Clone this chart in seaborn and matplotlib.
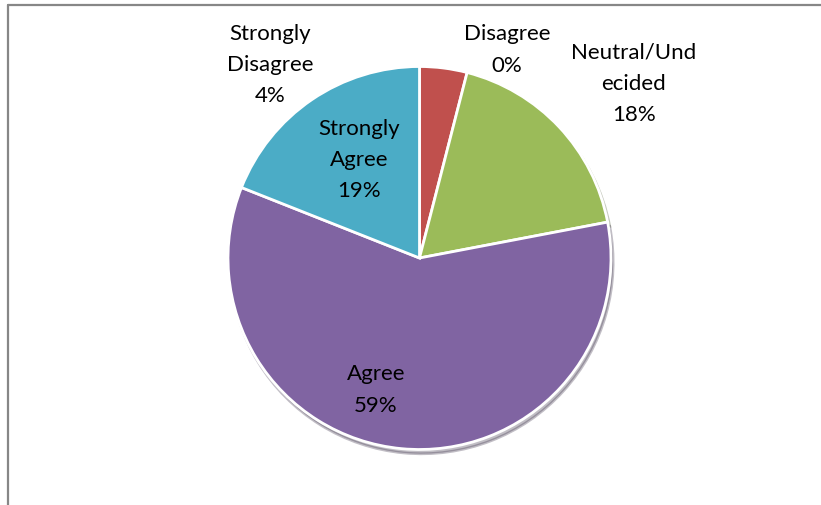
import matplotlib
matplotlib.use("Agg")
import matplotlib.pyplot as plt
import seaborn as sns
from matplotlib.lines import Line2D

categories = ["Disagree", "Strongly Disagree", "Neutral/Undecided", "Agree", "Strongly Agree"]
values = [0, 4, 18, 59, 19]
label_texts = ["Disagree\n0%", "Strongly\nDisagree\n4%", "Neutral/Und\necided\n18%", "Agree\n59%", "Strongly\nAgree\n19%"]
colors = ["#4F81BD", "#C0504D", "#9BBB59", "#8064A2", "#4BACC6"]

# label centre positions (pixels in the 821x506 image)
label_px = [(507, 50), (270, 65), (634, 84), (376, 390), (359, 160)]

sns.set_theme(style="white")
plt.rcParams["font.family"] = ["Lato", "DejaVu Sans"]

W, H = 821, 506
CX, CY, R = 419.5, 259.0, 191.5

fig = plt.figure(figsize=(W / 100, H / 100), dpi=100)
ax = fig.add_axes([0, 0, 1, 1])

def px(x, y):
    return ((x - CX) / R, (CY - y) / R)

wedges, _ = ax.pie(values, colors=sns.color_palette(colors), startangle=90, counterclock=False,
                   wedgeprops=dict(edgecolor="white", linewidth=2),
                   shadow=dict(ox=0.008, oy=-0.016, shade=0.6, alpha=0.3))
ax.set_xlim((0 - CX) / R, (W - CX) / R)
ax.set_ylim((CY - H) / R, CY / R)
ax.set_aspect("auto")
ax.axis("off")

for txt, (x, y) in zip(label_texts, label_px):
    tx, ty = px(x, y)
    ax.text(tx, ty, txt, ha="center", va="center", fontsize=16, color="black",
            linespacing=1.7, multialignment="center")

# chart frame (gray)
fig.add_artist(Line2D([7.5 / W, 1.0], [1 - 6 / H, 1 - 6 / H], transform=fig.transFigure, color="#878787", linewidth=1.6))
fig.add_artist(Line2D([7.5 / W, 7.5 / W], [0, 1 - 6 / H], transform=fig.transFigure, color="#878787", linewidth=1.6))

fig.savefig("out.png", dpi=100)
